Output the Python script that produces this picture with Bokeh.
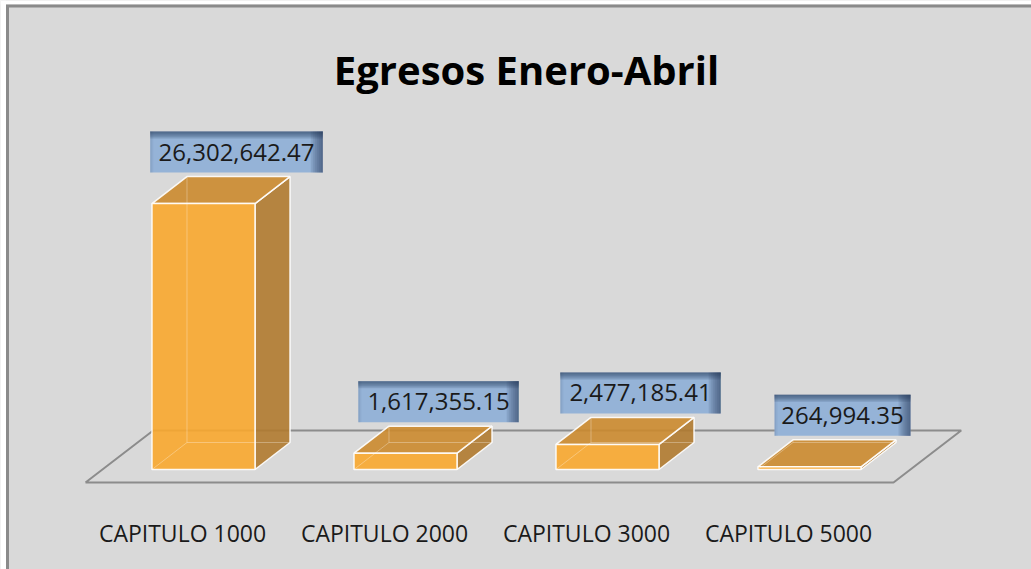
from bokeh.plotting import figure
from bokeh.models import ColumnDataSource, Range1d
from bokeh.core.properties import value
from bokeh.embed import file_html
from bokeh.resources import INLINE

# ---- data ----
title_text = "Egresos Enero-Abril"
categories = ["CAPITULO 1000", "CAPITULO 2000", "CAPITULO 3000", "CAPITULO 5000"]
amounts = [26302642.47, 1617355.15, 2477185.41, 264994.35]

# ---- layout (pixels) ----
W, H = 1031, 569
PX_CAT = 202.0          # pixels per category
PX_VAL = 10.11e-6       # pixels per value unit
BASE_FROM_BOTTOM = 100  # baseline position in px from bottom
FIRST_CENTER = 203      # px of first category centre from left

xs0 = -FIRST_CENTER / PX_CAT
xe0 = xs0 + W / PX_CAT
ys0 = -BASE_FROM_BOTTOM / PX_VAL
ye0 = ys0 + H / PX_VAL


def ux(px):
    return px / PX_CAT


def uy(px):
    return px / PX_VAL


BG = "#d9d9d9"
FONT = "Open Sans"

p = figure(width=W, height=H, x_range=Range1d(xs0, xe0), y_range=Range1d(ys0, ye0),
           output_backend="svg", toolbar_location=None,
           x_axis_type=None, y_axis_type=None, min_border=0,
           background_fill_color=BG, border_fill_color=BG, outline_line_color=None)
p.xgrid.visible = False
p.ygrid.visible = False

# white margin strip + frame lines (top and left)
p.quad(left=[xs0, xs0], right=[xe0, xs0 + ux(5.5)], bottom=[ye0 - uy(4), ys0], top=[ye0, ye0],
       fill_color="white", line_color=None)
p.segment(x0=[xs0 + ux(5.5), xs0 + ux(7)], y0=[ye0 - uy(5.5), ye0 - uy(5.5)],
          x1=[xe0, xs0 + ux(7)], y1=[ye0 - uy(5.5), ys0],
          line_color="#8a8a8a", line_width=3)

n = len(categories)
BAR_HALF = 0.255
DX, DY = ux(35), uy(27)

# ---- floor ----
fx0, fx1 = -0.5, n - 0.5
front_dx, front_dy = ux(-17), uy(-13)
back_dx, back_dy = ux(50.7), uy(39)
floor_x = [fx0 + front_dx, fx1 + front_dx, fx1 + back_dx, fx0 + back_dx, fx0 + front_dx]
floor_y = [front_dy, front_dy, back_dy, back_dy, front_dy]
p.line(floor_x, floor_y, line_color="#8c8c8c", line_width=2)

# ---- bars ----
front_xs, front_ys, top_xs, top_ys, side_xs, side_ys = [], [], [], [], [], []
hid_x0, hid_y0, hid_x1, hid_y1 = [], [], [], []
for i, v in enumerate(amounts):
    x0, x1 = i - BAR_HALF, i + BAR_HALF
    front_xs.append([x0, x1, x1, x0])
    front_ys.append([0, 0, v, v])
    top_xs.append([x0, x1, x1 + DX, x0 + DX])
    top_ys.append([v, v, v + DY, v + DY])
    side_xs.append([x1, x1 + DX, x1 + DX, x1])
    side_ys.append([0, DY, v + DY, v])
    hid_x0 += [x0 + DX, x0 + DX, x0]
    hid_y0 += [DY, DY, 0]
    hid_x1 += [x0 + DX, x1 + DX, x0 + DX]
    hid_y1 += [v + DY, DY, DY]

p.patches(side_xs, side_ys, fill_color="#b07a2f", fill_alpha=0.9, line_color="white", line_width=1.5, line_alpha=0.9)
p.patches(top_xs, top_ys, fill_color="#cb8a2d", fill_alpha=0.9, line_color="white", line_width=1.5, line_alpha=0.9)
p.patches(front_xs, front_ys, fill_color="#f8a72d", fill_alpha=0.9, line_color="white", line_width=1.5, line_alpha=0.9)
p.segment(x0=hid_x0, y0=hid_y0, x1=hid_x1, y1=hid_y1, line_color="white", line_alpha=0.3, line_width=1)

# ---- value labels ----
labels = [f"{v:,.2f}" for v in amounts]
bw = [ux(12.2 * len(s) + 14) for s in labels]
bh = uy(41)
cx = [i + ux(33) for i in range(n)]
bot = [v + DY + uy(4) for v in amounts]
left = [c - w / 2 for c, w in zip(cx, bw)]
right = [c + w / 2 for c, w in zip(cx, bw)]
top = [b + bh for b in bot]
p.quad(left=left, right=right, bottom=bot, top=top, fill_color="#95b3d7", line_color=None)
# shading to imitate the gradient
for k in range(1, 7):
    p.quad(left=left, right=right, bottom=[t - uy(1.2 * k) for t in top], top=top,
           fill_color="#1f3552", fill_alpha=0.13, line_color=None)
    p.quad(left=[r - ux(2.0 * k) for r in right], right=right, bottom=bot, top=top,
           fill_color="#1f3552", fill_alpha=0.12, line_color=None)
for k in range(1, 3):
    p.quad(left=left, right=[l + ux(1.5 * k) for l in left], bottom=bot, top=top,
           fill_color="#1f3552", fill_alpha=0.06, line_color=None)

lab_src = ColumnDataSource(dict(x=cx, y=[b + bh / 2 for b in bot], t=labels))
p.text(x="x", y="y", text="t", source=lab_src, text_align="center", text_baseline="middle",
       text_font=value(FONT), text_font_size="24px", text_color="#1a1a1a")

# ---- category labels ----
cat_src = ColumnDataSource(dict(x=[i + ux(-21) for i in range(n)], y=[uy(-63)] * n, t=categories))
p.text(x="x", y="y", text="t", source=cat_src, text_align="center", text_baseline="alphabetic",
       text_font=value(FONT), text_font_size="23px", text_color="#1a1a1a")

# ---- title ----
p.text(x=[xs0 + ux(526)], y=[ys0 + uy(H - 69)], text=[title_text], text_align="center",
       text_baseline="alphabetic", text_font=value(FONT), text_font_style="bold",
       text_font_size="40px", text_color="black")

open("out.html", "w").write(file_html(p, INLINE))
